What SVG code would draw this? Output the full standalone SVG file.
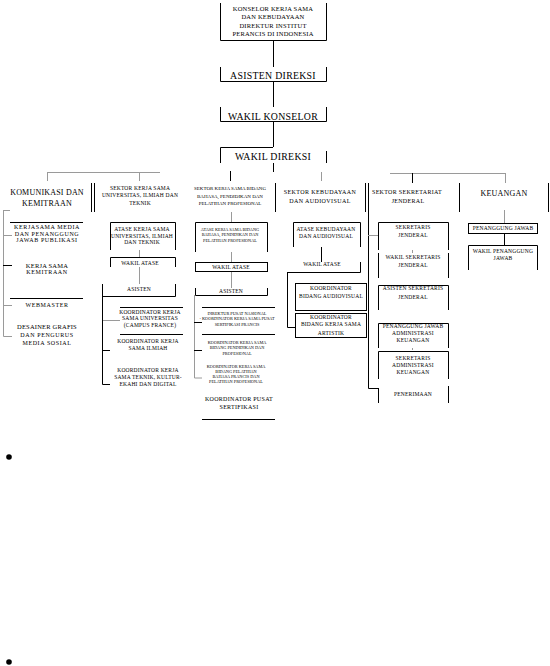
<svg xmlns="http://www.w3.org/2000/svg" width="550" height="666" viewBox="0 0 550 666">
<style>
text{font-family:"Liberation Serif","Times New Roman",serif;fill:#000;text-anchor:middle}
.b{fill:none;stroke:#000;stroke-width:1}
.g{fill:none;stroke:#9a9a9a;stroke-width:1}
.s4{font-size:4.3px}
.s5{font-size:5.5px;letter-spacing:0.2px}
.s6{font-size:6px;letter-spacing:0.6px}
.s65{font-size:6.5px;letter-spacing:0.2px}
.s8{font-size:8px;letter-spacing:0.2px}
.s10{font-size:9.8px;letter-spacing:0.3px}
</style>
<rect width="550" height="666" fill="#fff"/>
<g id="connectors">
<path class="b" d="M273.5,40 V67 M273.5,81 V107 M273.5,121 V147 M273.5,163 V172"/>
<path class="g" d="M47,172.5 H160 M47.5,172 V181 M139.5,172 V181 M321.5,172 V181 M390,173.5 H505 M505.5,173 V183"/>
<path class="b" d="M230.5,171 V181 M412.5,173 V183"/>
<path class="g" d="M3.5,210 V336.5 H12 M3,235.5 H12 M3,305.5 H12 M3,210.5 H10"/>
<path class="b" d="M3,265.5 H12 M10,222.5 H83 M10,298.5 H83"/>
<path class="g" d="M139.5,250 V257 M139.5,267 V284 M102,320.5 H120"/>
<path class="b" d="M102.5,284 V384.5 H110 M102,350.5 H110 M120,307.5 H183 M120,334.5 H183"/>
<path class="g" d="M231.5,212 V222 M231.5,252 V262 M231.5,271 V288 M194.5,295 V378 H202"/>
<path class="b" d="M194,322.5 H202 M194,350.5 H202 M202,307.5 H275 M202,334.5 H275 M202,419.5 H275"/>
<path class="b" d="M321.5,247 V262 M287.5,272 V327.5 H295"/>
<path class="b" d="M368.5,183 V388.5 H378"/>
<path class="g" d="M368,235.5 H378 M412.5,250 V253 M412.5,348 V350"/>
<path class="g" d="M504.5,210 V223"/>
<path class="b" d="M504.5,233 V245"/>
<path class="b" d="M91.5,183 V212 M94.5,183 V212 M275.5,183 V212 M365.5,183 V212 M459.5,183 V212 M548.5,183 V212"/>
</g>
<g id="n-konselor">
<path class="b" d="M220.5,3 V40.5 H326.5 V3"/>
<text class="s65" x="273" y="10.5">KONSELOR KERJA SAMA</text>
<text class="s65" x="273" y="19">DAN KEBUDAYAAN</text>
<text class="s65" x="273" y="27.5">DIREKTUR INSTITUT</text>
<text class="s65" x="273" y="36">PERANCIS DI INDONESIA</text>
</g>
<g id="n-asisten-direksi">
<path class="b" d="M220.5,67 V81.5 H326.5 V67"/>
<text class="s10" x="273" y="78.5">ASISTEN DIREKSI</text>
</g>
<g id="n-wakil-konselor">
<path class="b" d="M220.5,107 V121.5 H326.5 V107"/>
<text class="s10" x="273" y="119.5">WAKIL KONSELOR</text>
</g>
<g id="n-wakil-direksi">
<path class="b" d="M220.5,163 V147.5 H273 M326.5,151 V163"/>
<text class="s10" x="273" y="159.5">WAKIL DIREKSI</text>
</g>
<g id="n-komunikasi">
<text class="s8" x="47" y="195">KOMUNIKASI DAN</text>
<text class="s8" x="47" y="206">KEMITRAAN</text>
</g>
<g id="n-kerjasama-media">
<text class="s6" x="47" y="229">KERJASAMA MEDIA</text>
<text class="s6" x="47" y="235.5">DAN PENANGGUNG</text>
<text class="s6" x="47" y="242">JAWAB PUBLIKASI</text>
</g>
<g id="n-kerjasama-kemitraan">
<text class="s65" x="47" y="267.5">KERJA SAMA</text>
<text class="s6" x="47" y="274">KEMITRAAN</text>
</g>
<g id="n-webmaster"><text class="s6" x="47" y="307">WEBMASTER</text></g>
<g id="n-desainer">
<text class="s65" x="47" y="329">DESAINER GRAFIS</text>
<text class="s6" x="47" y="337">DAN PENGURUS</text>
<text class="s6" x="47" y="345">MEDIA SOSIAL</text>
</g>
<g id="n-sektor-univ">
<text class="s5" x="140" y="190">SEKTOR KERJA SAMA</text>
<text class="s5" x="140" y="197">UNIVERSITAS, ILMIAH DAN</text>
<text class="s5" x="140" y="205">TEKNIK</text>
</g>
<g id="n-atase-univ">
<path class="b" d="M110.5,250 V222.5 H175.5 V250"/>
<text class="s5" x="142" y="231">ATASE KERJA SAMA</text>
<text class="s5" x="142" y="237.5">UNIVERSITAS, ILMIAH</text>
<text class="s5" x="142" y="244">DAN TEKNIK</text>
</g>
<g id="n-wakil-atase-univ">
<path class="b" d="M110.5,267 V257.5 H175.5 V267"/>
<text class="s5" x="140" y="265">WAKIL ATASE</text>
</g>
<g id="n-asisten-univ">
<path class="b" d="M102.5,284 V296.5 H175.5 V284"/>
<text class="s5" x="139" y="291">ASISTEN</text>
</g>
<g id="n-koord-campus">
<text class="s5" x="150" y="314">KOORDINATOR KERJA</text>
<text class="s5" x="150" y="320">SAMA UNIVERSITAS</text>
<text class="s5" x="150" y="326.5">(CAMPUS FRANCE)</text>
</g>
<g id="n-koord-ilmiah">
<text class="s5" x="148" y="343">KOORDINATOR KERJA</text>
<text class="s5" x="148" y="349.5">SAMA ILMIAH</text>
</g>
<g id="n-koord-teknik">
<text class="s5" x="148" y="372">KOORDINATOR KERJA</text>
<text class="s5" x="148" y="379">SAMA TEKNIK, KULTUR-</text>
<text class="s5" x="148" y="385.5">EKAHI DAN DIGITAL</text>
</g>
<g id="n-sektor-bahasa">
<text class="s5" x="230" y="190" style="font-size:5px;letter-spacing:0">SEKTOR KERJA SAMA BIDANG</text>
<text class="s5" x="230" y="197.5" style="font-size:5px;letter-spacing:0">BAHASA, PENDIDIKAN DAN</text>
<text class="s5" x="230" y="204.5" style="font-size:5px;letter-spacing:0">PELATIHAN PROFESIONAL</text>
</g>
<g id="n-atase-bahasa">
<path class="b" d="M195.5,252 V222.5 H267.5 V252"/>
<text class="s4" x="230" y="230.5">ATASE KERJA SAMA BIDANG</text>
<text class="s4" x="230" y="236">BAHASA, PENDIDIKAN DAN</text>
<text class="s4" x="230" y="241.5">PELATIHAN PROFESIONAL</text>
</g>
<g id="n-wakil-atase-bahasa">
<rect class="b" x="195.5" y="262.5" width="72" height="9"/>
<text class="s5" x="231" y="268.5">WAKIL ATASE</text>
</g>
<g id="n-asisten-bahasa">
<path class="b" d="M195.5,288 V295.5 H267.5 V288"/>
<text class="s5" x="231" y="292.5">ASISTEN</text>
</g>
<g id="n-direktur-pusat">
<text class="s4" x="237" y="314.5">DIREKTUR PUSAT NASIONAL</text>
<text class="s4" x="237" y="319.5">- KOORDINATOR KERJA SAMA PUSAT</text>
<text class="s4" x="237" y="325.5">SERTIFIKASI PRANCIS</text>
</g>
<g id="n-koord-pendidikan">
<text class="s4" x="237" y="343.5">KOORDINATOR KERJA SAMA</text>
<text class="s4" x="237" y="348.5">BIDANG PENDIDIKAN DAN</text>
<text class="s4" x="237" y="354.5">PROFESIONAL</text>
</g>
<g id="n-koord-pelatihan">
<text class="s4" x="236" y="368">KOORDINATOR KERJA SAMA</text>
<text class="s4" x="236" y="373">BIDANG PELATIHAN</text>
<text class="s4" x="236" y="378">BAHASA PRANCIS DAN</text>
<text class="s4" x="236" y="383">PELATIHAN PROFESIONAL</text>
</g>
<g id="n-koord-sertifikasi">
<text class="s6" x="239" y="401" style="letter-spacing:0.3px">KOORDINATOR PUSAT</text>
<text class="s6" x="239" y="408.5" style="letter-spacing:0.3px">SERTIFIKASI</text>
</g>
<g id="n-sektor-kebudayaan">
<text class="s6" x="320" y="194" style="letter-spacing:0.4px">SEKTOR KEBUDAYAAN</text>
<text class="s6" x="320" y="203" style="letter-spacing:0.4px">DAN AUDIOVISUAL</text>
</g>
<g id="n-atase-kebudayaan">
<path class="b" d="M293.5,247 V222.5 H360.5 V247"/>
<text class="s5" x="326" y="231">ATASE KEBUDAYAAN</text>
<text class="s5" x="326" y="238">DAN AUDIOVISUAL</text>
</g>
<g id="n-wakil-atase-keb">
<path class="b" d="M360.5,262 V272.5 H287.5"/>
<text class="s5" x="322" y="266">WAKIL ATASE</text>
</g>
<g id="n-koord-audiovisual">
<rect class="b" x="295.5" y="283.5" width="71" height="27"/>
<text class="s5" x="331" y="290">KOORDINATOR</text>
<text class="s5" x="331" y="298">BIDANG AUDIOVISUAL</text>
</g>
<g id="n-koord-artistik">
<rect class="b" x="295.5" y="313.5" width="71" height="24"/>
<text class="s5" x="331" y="319">KOORDINATOR</text>
<text class="s5" x="331" y="326">BIDANG KERJA SAMA</text>
<text class="s5" x="331" y="335">ARTISTIK</text>
</g>
<g id="n-sektor-sekretariat">
<text class="s6" x="407" y="194" style="letter-spacing:0.3px">SEKTOR SEKRETARIAT</text>
<text class="s6" x="408" y="203" style="letter-spacing:0.3px">JENDERAL</text>
</g>
<g id="n-sekjen">
<path class="b" d="M378.5,250 V222.5 H448.5 V250"/>
<text class="s5" x="413" y="229">SEKRETARIS</text>
<text class="s5" x="413" y="237">JENDERAL</text>
</g>
<g id="n-wakil-sekjen">
<path class="b" d="M378.5,253 V278 M448.5,253 V278"/>
<text class="s5" x="413" y="259">WAKIL SEKRETARIS</text>
<text class="s5" x="413" y="267">JENDERAL</text>
</g>
<g id="n-asisten-sekjen">
<path class="b" d="M378.5,310 V285.5 H448.5 V310"/>
<text class="s5" x="413" y="290">ASISTEN SEKRETARIS</text>
<text class="s5" x="413" y="299">JENDERAL</text>
</g>
<g id="n-pj-adm">
<path class="b" d="M378.5,348 V323.5 H448.5 V348"/>
<text class="s5" x="413" y="328">PENANGGUNG JAWAB</text>
<text class="s5" x="413" y="335">ADMINISTRASI</text>
<text class="s5" x="413" y="342">KEUANGAN</text>
</g>
<g id="n-sek-adm">
<path class="b" d="M378.5,379 V351.5 H448.5 V379"/>
<text class="s5" x="413" y="360">SEKRETARIS</text>
<text class="s5" x="413" y="367">ADMINISTRASI</text>
<text class="s5" x="413" y="374">KEUANGAN</text>
</g>
<g id="n-penerimaan">
<path class="b" d="M378.5,388 V403 M448.5,386 V403"/>
<text class="s5" x="413" y="396">PENERIMAAN</text>
</g>
<g id="n-keuangan">
<text class="s8" x="504" y="196">KEUANGAN</text>
</g>
<g id="n-pj">
<rect class="b" x="468.5" y="223.5" width="69" height="10"/>
<text class="s5" x="503" y="230">PENANGGUNG JAWAB</text>
</g>
<g id="n-wakil-pj">
<path class="b" d="M468.5,270 V245.5 H537.5 V270"/>
<text class="s5" x="503" y="253">WAKIL PENANGGUNG</text>
<text class="s5" x="503" y="260">JAWAB</text>
</g>
<circle cx="9" cy="457" r="2.8" fill="#000"/>
<circle cx="9" cy="662" r="2.8" fill="#000"/>
</svg>
